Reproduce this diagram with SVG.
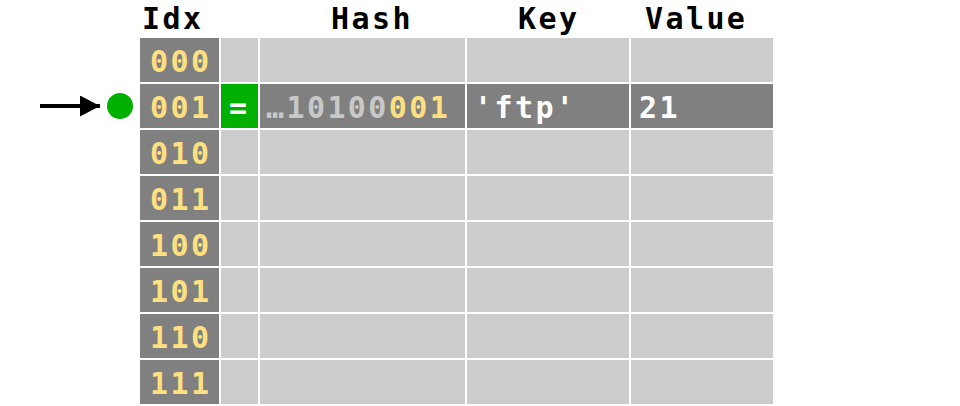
<svg xmlns="http://www.w3.org/2000/svg" width="960" height="406" viewBox="0 0 960 406">
<style>
.t{font-family:"DejaVu Sans Mono","Liberation Mono",monospace;font-weight:bold;font-size:30px;letter-spacing:2.4px}
.h{fill:#000}
.y{fill:#ffe080}
.g{fill:#c8c8c8}
.w{fill:#fff}
.dk{fill:#808080}
.lt{fill:#cccccc}
</style>
<defs>
<marker id="ah" markerWidth="20" markerHeight="21" refX="20" refY="10.5" orient="auto" markerUnits="userSpaceOnUse" viewBox="0 0 20 21">
<path d="M0,0 L20,10.5 L0,21 z" fill="#000"/>
</marker>
</defs>
<rect width="960" height="406" fill="#fff"/>
<g id="headers">
<text class="t h" x="142" y="29">Idx</text>
<text class="t h" x="331" y="29">Hash</text>
<text class="t h" x="518" y="29">Key</text>
<text class="t h" x="645" y="29">Value</text>
</g>
<g id="row0"><rect class="dk" x="140" y="38" width="79" height="44"/><rect class="lt" x="221" y="38" width="37" height="44"/><rect class="lt" x="260" y="38" width="205" height="44"/><rect class="lt" x="467" y="38" width="162" height="44"/><rect class="lt" x="631" y="38" width="142" height="44"/><text class="t y" x="150" y="72">000</text></g>
<g id="row1"><rect class="dk" x="140" y="84" width="79" height="44"/><rect fill="#00b000" x="221" y="84" width="37" height="44"/><rect class="dk" x="260" y="84" width="205" height="44"/><rect class="dk" x="467" y="84" width="162" height="44"/><rect class="dk" x="631" y="84" width="142" height="44"/><text class="t y" x="150" y="118">001</text><text class="t w" x="229" y="118">=</text><text class="t" x="266" y="118"><tspan class="g">…10100</tspan><tspan class="y">001</tspan></text><text class="t w" x="474" y="118">'ftp'</text><text class="t w" x="639" y="118">21</text></g>
<g id="row2"><rect class="dk" x="140" y="130" width="79" height="44"/><rect class="lt" x="221" y="130" width="37" height="44"/><rect class="lt" x="260" y="130" width="205" height="44"/><rect class="lt" x="467" y="130" width="162" height="44"/><rect class="lt" x="631" y="130" width="142" height="44"/><text class="t y" x="150" y="164">010</text></g>
<g id="row3"><rect class="dk" x="140" y="176" width="79" height="44"/><rect class="lt" x="221" y="176" width="37" height="44"/><rect class="lt" x="260" y="176" width="205" height="44"/><rect class="lt" x="467" y="176" width="162" height="44"/><rect class="lt" x="631" y="176" width="142" height="44"/><text class="t y" x="150" y="210">011</text></g>
<g id="row4"><rect class="dk" x="140" y="222" width="79" height="44"/><rect class="lt" x="221" y="222" width="37" height="44"/><rect class="lt" x="260" y="222" width="205" height="44"/><rect class="lt" x="467" y="222" width="162" height="44"/><rect class="lt" x="631" y="222" width="142" height="44"/><text class="t y" x="150" y="256">100</text></g>
<g id="row5"><rect class="dk" x="140" y="268" width="79" height="44"/><rect class="lt" x="221" y="268" width="37" height="44"/><rect class="lt" x="260" y="268" width="205" height="44"/><rect class="lt" x="467" y="268" width="162" height="44"/><rect class="lt" x="631" y="268" width="142" height="44"/><text class="t y" x="150" y="302">101</text></g>
<g id="row6"><rect class="dk" x="140" y="314" width="79" height="44"/><rect class="lt" x="221" y="314" width="37" height="44"/><rect class="lt" x="260" y="314" width="205" height="44"/><rect class="lt" x="467" y="314" width="162" height="44"/><rect class="lt" x="631" y="314" width="142" height="44"/><text class="t y" x="150" y="348">110</text></g>
<g id="row7"><rect class="dk" x="140" y="360" width="79" height="44"/><rect class="lt" x="221" y="360" width="37" height="44"/><rect class="lt" x="260" y="360" width="205" height="44"/><rect class="lt" x="467" y="360" width="162" height="44"/><rect class="lt" x="631" y="360" width="142" height="44"/><text class="t y" x="150" y="394">111</text></g>
<g id="pointer"><circle cx="120" cy="106" r="13" fill="#00b000"/></g>
<g id="connectors"><line x1="40" y1="106" x2="100" y2="106" stroke="#000" stroke-width="4" marker-end="url(#ah)"/></g>
</svg>
